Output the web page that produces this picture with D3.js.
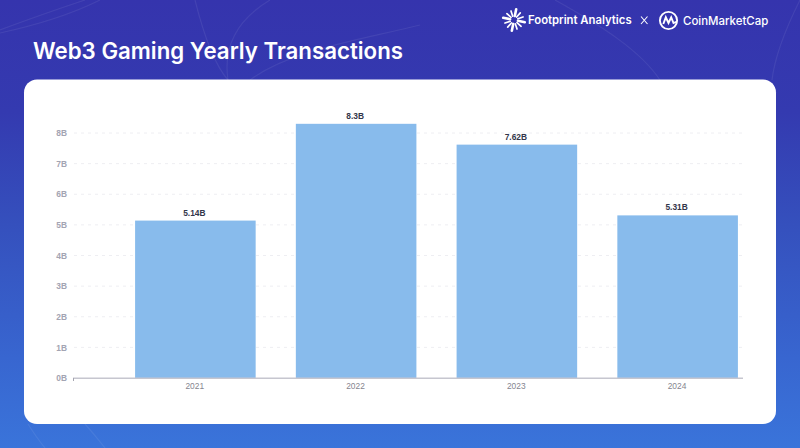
<!DOCTYPE html>
<html><head><meta charset="utf-8">
<script src="https://cdn.jsdelivr.net/npm/d3@7"></script>
<style>html,body{margin:0;padding:0;overflow:hidden;background:#3535ae}svg{display:block}text{font-family:Inter,Roboto,sans-serif}.ch text,text.ch{font-family:"Liberation Sans",Arial,sans-serif}</style>
</head><body><svg id="c" width="800" height="448"></svg>
<script>
const categories=["2021","2022","2023","2024"];
const values=[5.14,8.3,7.62,5.31];
const valueLabels=["5.14B","8.3B","7.62B","5.31B"];
const tickValues=[0,1,2,3,4,5,6,7,8];
const titleText="Web3 Gaming Yearly Transactions";
const brandLeft="Footprint Analytics";
const brandRight="CoinMarketCap";
const decoCurves=["M195,0C205,40 215,65 228,80","M228,80C222,40 245,15 270,0","M0,33C60,20 90,5 100,0","M250,80C290,50 360,40 420,25","M555,0C600,25 640,50 660,80","M800,0C785,30 775,55 772,80","M28,424C35,435 40,442 45,448","M85,424C95,435 100,442 105,448","M0,30C40,15 70,5 85,0"];

const svg=d3.select("#c");
const defs=svg.append("defs");
const g=defs.append("linearGradient").attr("id","bg").attr("x1",0).attr("y1",0).attr("x2",0).attr("y2",1);
[[0,"#3534ad"],[.25,"#343ab0"],[.5,"#3550bd"],[.8,"#3866d0"],[1,"#3a74da"]].forEach(d=>g.append("stop").attr("offset",d[0]).attr("stop-color",d[1]));
svg.append("rect").attr("width",800).attr("height",448).attr("fill","url(#bg)");
svg.append("g").selectAll("path").data(decoCurves).join("path").attr("d",d=>d).attr("fill","none").attr("stroke","#fff").attr("stroke-opacity",.07).attr("stroke-width",1.2);

svg.append("rect").attr("x",24).attr("y",79.5).attr("width",752).attr("height",344.5).attr("rx",13).attr("fill","#fff");

svg.append("text").attr("x",33).attr("y",59).attr("fill","#fff").attr("font-size",22.25).attr("font-weight",600).text(titleText);

// logos
const fp=svg.append("g").attr("transform","translate(514,20)");
d3.range(12).forEach(i=>{const a=i*Math.PI/6+.2,r0=4,r1=i%3==0?11:9.5;
 fp.append("line").attr("x1",r0*Math.cos(a)).attr("y1",r0*Math.sin(a)).attr("x2",r1*Math.cos(a)).attr("y2",r1*Math.sin(a)).attr("stroke","#fff").attr("stroke-width",i%3==0?2.6:1.7).attr("stroke-linecap","round");});
svg.append("text").attr("x",528).attr("y",24.4).attr("fill","#fff").attr("font-size",11.3).attr("font-weight",600).text(brandLeft);
svg.append("path").attr("d","M641,16.5L647.5,24M647.5,16.5L641,24").attr("stroke","#fff").attr("stroke-width",1.1);
const cm=svg.append("g").attr("transform","translate(668.5,20.5)");
cm.append("circle").attr("r",8.6).attr("fill","none").attr("stroke","#fff").attr("stroke-width",1.9);
cm.append("path").attr("d","M-5.2,3.5L-2.7,-3.2L0,2.5L2.7,-3.2L5,2.5L8.5,1").attr("fill","none").attr("stroke","#fff").attr("stroke-width",1.9);
svg.append("text").attr("x",683).attr("y",25).attr("fill","#fff").attr("font-size",11.45).attr("font-weight",500).text(brandRight);

// chart
const x=d3.scaleBand().domain(categories).range([115,758]).paddingInner(.25).paddingOuter(.125);
const y=d3.scaleLinear().domain([0,8]).range([378,133]);

const grid=svg.append("g");
grid.selectAll("line").data(tickValues.slice(1)).join("line")
 .attr("x1",74).attr("x2",743).attr("y1",d=>y(d)).attr("y2",d=>y(d))
 .attr("stroke","#eeeef2").attr("stroke-width",1).attr("stroke-dasharray","3 4");

const yAxis=d3.axisLeft(y).tickValues(tickValues).tickFormat(d=>d+"B").tickSize(0).tickPadding(0);
const ya=svg.append("g").attr("class","ch").attr("transform","translate(67,0)").call(yAxis);
ya.select(".domain").remove();
ya.selectAll("text").attr("fill","#a3a4b2").attr("font-size",8.4).attr("font-weight",700);

svg.append("g").selectAll("rect").data(categories).join("rect")
 .attr("x",d=>x(d)).attr("width",x.bandwidth())
 .attr("y",(d,i)=>y(values[i])).attr("height",(d,i)=>y(0)-y(values[i]))
 .attr("fill","#88bbec");

const axisY=y(0);
svg.append("line").attr("x1",73).attr("x2",743).attr("y1",axisY+.3).attr("y2",axisY+.3).attr("stroke","#c6c6cf").attr("stroke-width",1.4);
svg.append("line").attr("x1",73.5).attr("x2",73.5).attr("y1",axisY).attr("y2",axisY+3).attr("stroke","#a5a5b0");

const xAxis=d3.axisBottom(x).tickSize(0).tickPadding(5);
const xa=svg.append("g").attr("class","ch").attr("transform",`translate(-0.6,${axisY})`).call(xAxis);
xa.select(".domain").remove();
xa.selectAll("text").attr("fill","#85858f").attr("font-size",8.4).attr("font-weight",400);

svg.append("g").attr("class","ch").selectAll("text").data(categories).join("text")
 .attr("x",d=>x(d)+x.bandwidth()/2-1).attr("y",(d,i)=>y(values[i])-5)
 .attr("text-anchor","middle").attr("fill","#33364a").attr("font-size",8.4).attr("font-weight",700)
 .text((d,i)=>valueLabels[i]);
</script></body></html>
